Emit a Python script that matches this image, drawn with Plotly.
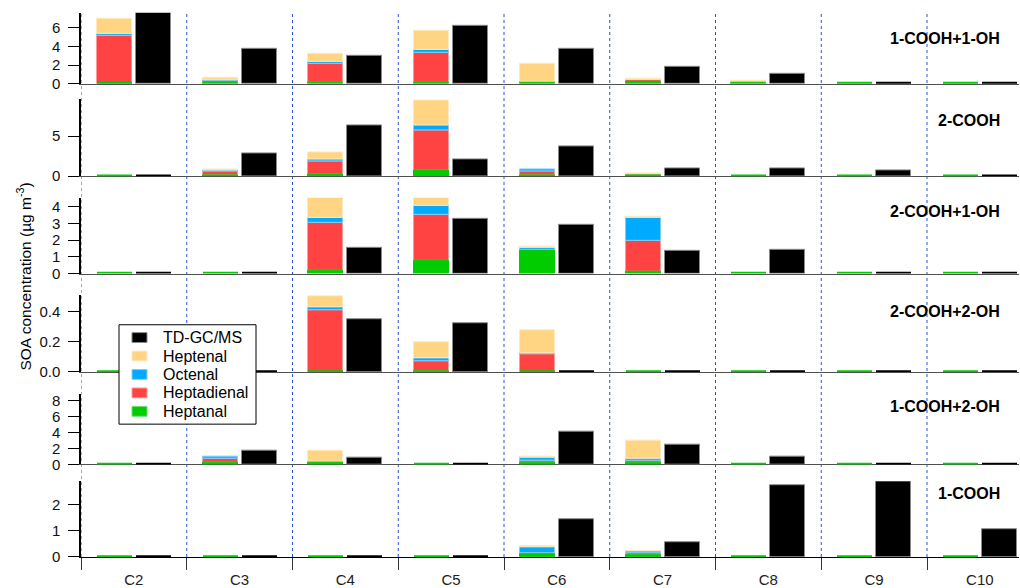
import plotly.graph_objects as go

# Carbon-number categories along the x axis
categories = ["C2", "C3", "C4", "C5", "C6", "C7", "C8", "C9", "C10"]

# Product classes, one panel each (top to bottom)
panels = ["1-COOH+1-OH", "2-COOH", "2-COOH+1-OH", "2-COOH+2-OH", "1-COOH+2-OH", "1-COOH"]

# SOA concentrations (ug m-3) per precursor, per product class, for C2..C10
heptanal = {
    "1-COOH+1-OH": [0, 0.08, 0.05, 0.05, 0.1, 0.2, 0.05, 0, 0],
    "2-COOH":      [0, 0.12, 0.25, 0.74, 0.1, 0.1, 0, 0, 0],
    "2-COOH+1-OH": [0, 0, 0.17, 0.76, 1.36, 0.09, 0, 0, 0],
    "2-COOH+2-OH": [0, 0, 0, 0.005, 0, 0, 0, 0, 0],
    "1-COOH+2-OH": [0, 0.2, 0.29, 0, 0.29, 0.21, 0, 0, 0],
    "1-COOH":      [0, 0, 0, 0, 0.1, 0.05, 0, 0, 0],
}
heptadienal = {
    "1-COOH+1-OH": [5.1, 0.18, 2.05, 3.3, 0.1, 0.2, 0, 0, 0],
    "2-COOH":      [0, 0.46, 1.57, 5.0, 0.48, 0.15, 0, 0, 0],
    "2-COOH+1-OH": [0, 0, 2.85, 2.77, 0.08, 1.84, 0, 0, 0],
    "2-COOH+2-OH": [0, 0, 0.41, 0.065, 0.115, 0, 0, 0, 0],
    "1-COOH+2-OH": [0, 0.58, 0.08, 0, 0.25, 0.33, 0, 0, 0],
    "1-COOH":      [0, 0, 0, 0, 0.05, 0.09, 0, 0, 0],
}
octenal = {
    "1-COOH+1-OH": [0.24, 0.14, 0.2, 0.32, 0.05, 0, 0, 0, 0],
    "2-COOH":      [0, 0.2, 0.28, 0.62, 0.29, 0, 0, 0, 0],
    "2-COOH+1-OH": [0, 0, 0.29, 0.55, 0.08, 1.42, 0, 0, 0],
    "2-COOH+2-OH": [0, 0, 0.018, 0.023, 0.01, 0, 0, 0, 0],
    "1-COOH+2-OH": [0, 0.21, 0, 0, 0.29, 0.21, 0, 0, 0],
    "1-COOH":      [0, 0, 0, 0, 0.22, 0.08, 0, 0, 0],
}
heptenal = {
    "1-COOH+1-OH": [1.67, 0.22, 0.85, 2.05, 1.93, 0.08, 0.25, 0, 0],
    "2-COOH":      [0, 0.08, 0.83, 3.13, 0, 0.05, 0, 0, 0],
    "2-COOH+1-OH": [0, 0, 1.22, 0.45, 0.06, 0.06, 0, 0, 0],
    "2-COOH+2-OH": [0, 0, 0.072, 0.102, 0.148, 0, 0, 0, 0],
    "1-COOH+2-OH": [0, 0, 1.37, 0, 0.17, 2.2, 0, 0, 0],
    "1-COOH":      [0, 0, 0, 0, 0.05, 0.01, 0, 0, 0],
}
td_gcms = {
    "1-COOH+1-OH": [7.57, 3.78, 2.96, 6.19, 3.78, 1.76, 1.01, 0, 0],
    "2-COOH":      [0, 2.9, 6.4, 2.1, 3.76, 0.95, 0.91, 0.7, 0],
    "2-COOH+1-OH": [0, 0, 1.52, 3.3, 2.9, 1.35, 1.42, 0, 0],
    "2-COOH+2-OH": [0, 0, 0.35, 0.32, 0, 0, 0, 0, 0],
    "1-COOH+2-OH": [0, 1.74, 0.87, 0, 4.19, 2.45, 0.96, 0, 0],
    "1-COOH":      [0, 0, 0, 0, 1.47, 0.56, 2.77, 2.92, 1.05],
}

# Axis settings per panel
y_max = [7.6, 9.6, 4.53, 0.506, 8.92, 2.91]
y_ticks = [[0, 2, 4, 6], [0, 5], [0, 1, 2, 3, 4], [0, 0.2, 0.4], [0, 2, 4, 6, 8], [0, 1, 2]]
y_ticktext = [None, None, None, ["0.0", "0.2", "0.4"], None, None]

# Figure geometry (pixels)
W, H = 1020, 588
ML, MR, MT, MB = 81, 1, 0, 23
PLOT_W = W - ML - MR
PLOT_H = H - MT - MB
panel_px = [(12, 84), (100, 178), (200, 277), (299, 377), (399, 471), (488, 565)]
label_px = [37.7, 121.7, 214, 315.7, 411.7, 500.7]


def px_x(px):
    return (px - ML) / PLOT_W


def px_y(py):
    return (H - MB - py) / PLOT_H


FONT = "Liberation Sans, Arial, sans-serif"
BAR_W = 0.33
STACK_OFF = 0.316
TD_OFF = 0.684
X_MAX = 8.87
ZERO_LW = 4  # stroke used to show zero-valued bars as a line on the baseline

COLORS = {
    "Heptanal": ("#00CC00", "#00CC00"),
    "Heptadienal": ("#FF4242", "#FF9A9A"),
    "Octenal": ("#00AAFF", "#7FD0FF"),
    "Heptenal": ("#FFD583", "#FFE9BF"),
    "TD-GC/MS": ("#000000", "#8a8a8a"),
}

# Stacking order, bottom to top
stack_order = [("Heptanal", heptanal), ("Heptadienal", heptadienal),
               ("Octenal", octenal), ("Heptenal", heptenal)]

fig = go.Figure()
x_stack = [i + STACK_OFF for i in range(len(categories))]
x_td = [i + TD_OFF for i in range(len(categories))]

for p, panel in enumerate(panels):
    xa, ya = f"x{p + 1}", f"y{p + 1}"
    # cumulative bases for the stacked precursor bars
    bases = {}
    running = [0.0] * len(categories)
    for name, data in stack_order:
        bases[name] = list(running)
        running = [r + v for r, v in zip(running, data[panel])]
    # Heptanal is drawn last so its baseline line stays in front
    for name, data in stack_order[1:] + stack_order[:1]:
        vals = data[panel]
        fill, edge = COLORS[name]
        if name == "Heptanal":
            lw = [ZERO_LW if v == 0 else 1 for v in vals]
        else:
            lw = [0 if v == 0 else 1 for v in vals]
        lc = [fill if v == 0 else edge for v in vals]
        fig.add_trace(go.Bar(
            x=x_stack, y=vals, base=bases[name], width=BAR_W, name=name,
            xaxis=xa, yaxis=ya,
            marker=dict(color=fill, line=dict(color=lc, width=lw)),
            showlegend=False,
        ))
    vals = td_gcms[panel]
    fill, edge = COLORS["TD-GC/MS"]
    fig.add_trace(go.Bar(
        x=x_td, y=vals, width=BAR_W, name="TD-GC/MS", xaxis=xa, yaxis=ya,
        marker=dict(color=fill,
                    line=dict(color=[fill if v == 0 else edge for v in vals],
                              width=[ZERO_LW if v == 0 else 1 for v in vals])),
        showlegend=False,
    ))

layout = {}
for p in range(len(panels)):
    sx = "" if p == 0 else str(p + 1)
    bottom = (p == len(panels) - 1)
    top_px, base_px = panel_px[p]
    xaxis = dict(
        domain=[0, 1], range=[0, X_MAX], anchor=f"y{p + 1}",
        showline=True, linecolor="#000000" if bottom else "#505050", linewidth=1,
        showgrid=False, zeroline=False, fixedrange=True, layer="below traces",
        showticklabels=bottom, ticks="",
    )
    if bottom:
        xaxis.update(
            tickmode="array",
            tickvals=[i + 0.5 for i in range(len(categories))],
            ticktext=categories,
            tickfont=dict(family=FONT, size=15, color="#222222"),
            ticklabelstandoff=9,
            minor=dict(tickmode="array", tickvals=list(range(len(categories))),
                       ticks="outside", ticklen=12, tickcolor="#333333", tickwidth=1),
        )
    else:
        xaxis.update(matches="x6")
    layout["xaxis" + sx] = xaxis
    yaxis = dict(
        domain=[px_y(base_px), px_y(top_px)], range=[0, y_max[p]], anchor=f"x{p + 1}",
        showline=True, linecolor="#000000", linewidth=1.5,
        ticks="outside", ticklen=11, tickwidth=1, tickcolor="#000000",
        tickmode="array", tickvals=y_ticks[p],
        tickfont=dict(family=FONT, size=15, color="#111111"),
        ticklabelstandoff=5,
        showgrid=False, zeroline=False, fixedrange=True,
    )
    if y_ticktext[p]:
        yaxis["ticktext"] = y_ticktext[p]
    layout["yaxis" + sx] = yaxis

fig.update_layout(**layout)

# Dotted separators between carbon-number groups, spanning all panels
for i in range(len(categories)):
    fig.add_shape(type="line", xref="x6", yref="paper", x0=i, x1=i,
                  y0=0, y1=px_y(panel_px[0][0]),
                  line=dict(color="#2E4FD8", width=1, dash="dot"), layer="below")

# Panel labels
for p, panel in enumerate(panels):
    fig.add_annotation(text=f"<b>{panel}</b>", xref="paper", yref="paper",
                       x=px_x(1002), y=px_y(label_px[p]), xanchor="right", yanchor="middle",
                       showarrow=False, font=dict(family=FONT, size=16, color="#000000"))

# Shared y-axis title
fig.add_annotation(text="SOA concentration (µg m<sup>-3</sup>)", xref="paper", yref="paper",
                   x=px_x(24), y=px_y(280), textangle=-90, xanchor="center", yanchor="middle",
                   showarrow=False, font=dict(family=FONT, size=15.5, color="#000000"))

# Legend box with colour swatches
legend_order = ["TD-GC/MS", "Heptenal", "Octenal", "Heptadienal", "Heptanal"]
fig.add_shape(type="rect", xref="paper", yref="paper",
              x0=px_x(119), x1=px_x(256), y0=px_y(430), y1=px_y(329),
              line=dict(color="#000000", width=1), fillcolor="white", layer="above")
for k, name in enumerate(legend_order):
    fill, edge = COLORS[name]
    if name == "Heptanal":
        edge = "#6FE06F"
    cy = 342 + k * 18.75
    fig.add_shape(type="rect", xref="paper", yref="paper",
                  x0=px_x(132), x1=px_x(147), y0=px_y(cy + 5), y1=px_y(cy - 5),
                  line=dict(color=edge, width=1), fillcolor=fill, layer="above")
    fig.add_annotation(text=name, xref="paper", yref="paper",
                       x=px_x(161), y=px_y(cy), xanchor="left", yanchor="middle",
                       showarrow=False, font=dict(family=FONT, size=16, color="#000000"))

fig.update_layout(
    width=W, height=H,
    margin=dict(l=ML, r=MR, t=MT, b=MB),
    barmode="overlay", bargap=0,
    plot_bgcolor="white", paper_bgcolor="white",
    font=dict(family=FONT, size=15, color="#000000"),
    showlegend=False,
)

fig.write_html("out.html")
